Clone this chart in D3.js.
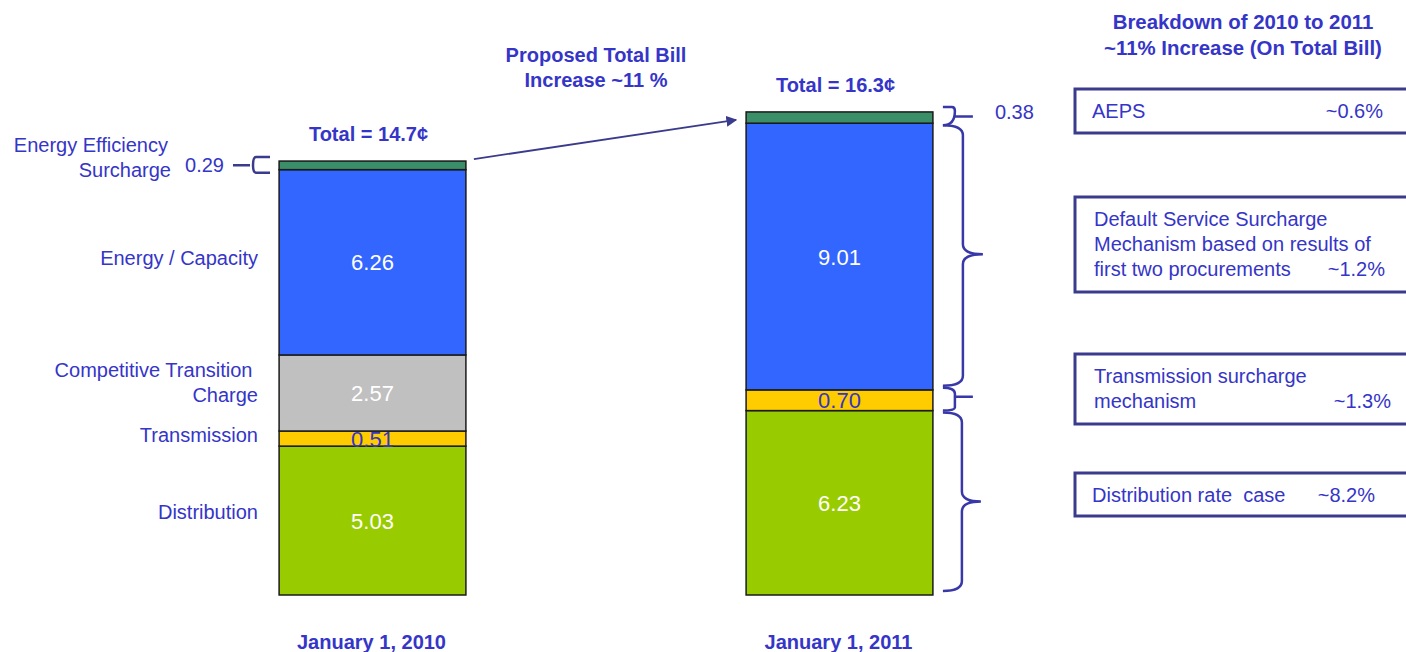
<!DOCTYPE html>
<html>
<head>
<meta charset="utf-8">
<script src="https://cdn.jsdelivr.net/npm/d3@7"></script>
<style>
  html, body { margin: 0; padding: 0; background: #ffffff; }
  svg { display: block; font-family: "Liberation Sans", Arial, sans-serif; }
</style>
</head>
<body>
<svg id="chart" width="1406" height="652"></svg>
<script>
// ---- data ----
const categories = ["January 1, 2010", "January 1, 2011"];
const components = ["Distribution", "Transmission", "Competitive Transition Charge", "Energy / Capacity", "Energy Efficiency Surcharge"];
const componentLabelLines = [["Distribution"], ["Transmission"], ["Competitive Transition ", "Charge"], ["Energy / Capacity"], ["Energy Efficiency", "Surcharge"]];
const values2010 = [5.03, 0.51, 2.57, 6.26, 0.29];
const values2011 = [6.23, 0.70, 0, 9.01, 0.38];
const totalLabels = ["Total = 14.7¢", "Total = 16.3¢"];
const colors = ["#99cc00", "#ffcc00", "#c0c0c0", "#3366ff", "#3a8f68"];
const breakdownTitle = ["Breakdown of 2010 to 2011", "~11% Increase (On Total Bill)"];
const breakdownText = [["AEPS"], ["Default Service Surcharge", "Mechanism based on results of", "first two procurements"], ["Transmission surcharge", "mechanism"], ["Distribution rate  case"]];
const breakdownPct = ["~0.6%", "~1.2%", "~1.3%", "~8.2%"];
const arrowTitle = ["Proposed Total Bill", "Increase ~11 %"];

const BLUE = "#3535c8";
const NAVY = "#3b3b8e";
const BRACE = "#3838a8";

const svg = d3.select("#chart");

const rows = categories.map((c, i) => {
  const vals = i === 0 ? values2010 : values2011;
  const r = { cat: c };
  components.forEach((k, j) => r[k] = vals[j]);
  return r;
});
const stacked = d3.stack().keys(components)(rows);

const x = d3.scaleBand().domain(categories).range([139, 1073]).paddingInner(0.6).paddingOuter(0.3);
const y = d3.scaleLinear().domain([0, 16]).range([595, 595 - 16 * 29.6]);

// bars
const g = svg.append("g");
stacked.forEach((layer, j) => {
  g.selectAll(null).data(layer.filter(d => d[1] - d[0] > 0)).enter().append("rect")
    .attr("x", d => x(d.data.cat))
    .attr("y", d => y(d[1]))
    .attr("width", x.bandwidth())
    .attr("height", d => y(d[0]) - y(d[1]))
    .attr("fill", colors[j])
    .attr("stroke", "#1a1a1a")
    .attr("stroke-width", 1.5);
});

// value labels inside bars
stacked.forEach((layer, j) => {
  layer.forEach((d, i) => {
    const v = d[1] - d[0];
    if (v <= 0 || j === 4) return;
    const cx = x(d.data.cat) + x.bandwidth() / 2;
    const cy = (y(d[0]) + y(d[1])) / 2;
    svg.append("text")
      .attr("x", cx).attr("y", cy + 8)
      .attr("text-anchor", "middle")
      .attr("font-size", 22)
      .attr("fill", j === 1 ? BLUE : "#ffffff")
      .text(v.toFixed(2));
  });
});

// component labels on the left of the first bar
const labelOffsets = [-9, -4, -10, -4, 0];
stacked.forEach((layer, j) => {
  const d = layer[0];
  const lines = componentLabelLines[j];
  if (j === 4) {
    const cy = y(d[1]) - 1;
    lines.forEach((t, k) => {
      svg.append("text").attr("x", [168, 171][k]).attr("y", cy - 8 + k * 25)
        .attr("text-anchor", "end").attr("font-size", 20).attr("fill", BLUE).text(t);
    });
    return;
  }
  const cy = (y(d[0]) + y(d[1])) / 2 + labelOffsets[j];
  const startY = cy - (lines.length - 1) * 12.5 + 7;
  lines.forEach((t, k) => {
    svg.append("text").attr("x", 258).attr("y", startY + k * 25)
      .attr("text-anchor", "end").attr("font-size", 20).attr("fill", BLUE)
      .style("white-space", "pre").text(t);
  });
});

// 0.29 label with small bracket
{
  const d = stacked[4][0];
  const top = y(d[1]), bot = y(d[0]);
  const ym = (top + bot) / 2;
  svg.append("text").attr("x", 224).attr("y", ym + 7).attr("text-anchor", "end")
    .attr("font-size", 20).attr("fill", BLUE).text(values2010[4].toFixed(2));
  svg.append("path")
    .attr("d", `M233,${ym} L250,${ym} M270,${top - 4} L256,${top - 4} Q253,${top - 4} 253,${ym} Q253,${bot + 3} 256,${bot + 3} L270,${bot + 3}`)
    .attr("fill", "none").attr("stroke", NAVY).attr("stroke-width", 2.5);
}

// totals and category labels
categories.forEach((c, i) => {
  const tot = d3.sum(i === 0 ? values2010 : values2011);
  svg.append("text").attr("x", x(c) + x.bandwidth() / 2 - 4).attr("y", y(tot) - 20)
    .attr("text-anchor", "middle").attr("font-size", 20).attr("font-weight", "bold")
    .attr("fill", BLUE).text(totalLabels[i]);
  svg.append("text").attr("x", x(c) + x.bandwidth() / 2 - 1).attr("y", 649)
    .attr("text-anchor", "middle").attr("font-size", 20).attr("font-weight", "bold")
    .attr("fill", BLUE).text(c);
});

// arrow
svg.append("defs").append("marker")
  .attr("id", "ah").attr("viewBox", "0 0 10 10").attr("refX", 9).attr("refY", 5)
  .attr("markerWidth", 6).attr("markerHeight", 6).attr("orient", "auto")
  .append("path").attr("d", "M0,0 L10,5 L0,10 z").attr("fill", NAVY);
{
  const t1 = d3.sum(values2010), t2 = d3.sum(values2011);
  svg.append("line")
    .attr("x1", x(categories[0]) + x.bandwidth() + 8).attr("y1", y(t1) - 2)
    .attr("x2", x(categories[1]) - 10).attr("y2", y(t2) + 8)
    .attr("stroke", NAVY).attr("stroke-width", 1.8).attr("marker-end", "url(#ah)");
}
arrowTitle.forEach((t, k) => {
  svg.append("text").attr("x", 596).attr("y", 62 + k * 25).attr("text-anchor", "middle")
    .attr("font-size", 20).attr("font-weight", "bold").attr("fill", BLUE).text(t);
});

// braces on bar 2
function brace(y0, y1, x0, w, ym) {
  const x1 = x0 + w / 2, x2 = x0 + w;
  if (ym === undefined) ym = (y0 + y1) / 2;
  const r = Math.min(10, (y1 - y0) / 4);
  return `M${x0},${y0} Q${x1},${y0} ${x1},${y0 + r} L${x1},${ym - r} Q${x1},${ym} ${x2},${ym} Q${x1},${ym} ${x1},${ym + r} L${x1},${y1 - r} Q${x1},${y1} ${x0},${y1}`;
}
{
  const c = categories[1];
  const bx = x(c) + x.bandwidth();
  const s = stacked;
  const gTop = y(s[4][1][1]), gBot = y(s[4][1][0]);
  const eTop = y(s[3][1][1]), eBot = y(s[3][1][0]);
  const tTop = y(s[1][1][1]), tBot = y(s[1][1][0]);
  const dTop = y(s[0][1][1]), dBot = y(s[0][1][0]);
  const addPath = p => svg.append("path").attr("d", p).attr("fill", "none").attr("stroke", BRACE).attr("stroke-width", 2.5);
  // small brace for top (0.38)
  addPath(`M${bx + 10},${gTop - 5} L${bx + 19},${gTop - 5} Q${bx + 22},${gTop - 5} ${bx + 22},${gTop - 1} Q${bx + 22},${gBot + 2} ${bx + 10},${gBot + 2} M${bx + 22},${(gTop + gBot) / 2 - 1} L${bx + 40},${(gTop + gBot) / 2 - 1}`);
  svg.append("text").attr("x", bx + 62).attr("y", gTop + 7).attr("font-size", 20).attr("fill", BLUE).text(values2011[4].toFixed(2));
  // big brace energy
  addPath(brace(eTop + 2, eBot - 4, bx + 10, 40, eTop + 131));
  // small brace transmission
  addPath(`M${bx + 10},${tTop - 2} Q${bx + 22},${tTop - 2} ${bx + 22},${tTop + 4} L${bx + 22},${tBot - 3} Q${bx + 22},${tBot} ${bx + 10},${tBot} M${bx + 22},${tTop + 7} L${bx + 40},${tTop + 7}`);
  // big brace distribution
  addPath(brace(dTop + 2, dBot - 4, bx + 10, 38, dTop + 91));
}

// right-side breakdown
breakdownTitle.forEach((t, k) => {
  svg.append("text").attr("x", 1243).attr("y", 29 + k * 26).attr("text-anchor", "middle")
    .attr("font-size", 20.4).attr("font-weight", "bold").attr("fill", BLUE).text(t);
});
const boxY = [89, 197, 354, 473];
const boxH = [44, 95, 70, 43];
const pctX = [1383, 1385, 1391, 1375];
breakdownText.forEach((lines, i) => {
  svg.append("rect").attr("x", 1075).attr("y", boxY[i]).attr("width", 360).attr("height", boxH[i])
    .attr("fill", "#ffffff").attr("stroke", NAVY).attr("stroke-width", 3);
  const tx = (i === 0 || i === 3) ? 1092 : 1094;
  lines.forEach((t, k) => {
    svg.append("text").attr("x", tx).attr("y", boxY[i] + 29 + k * 25)
      .attr("font-size", 20).attr("fill", BLUE).style("white-space", "pre").text(t);
  });
  svg.append("text").attr("x", pctX[i]).attr("y", boxY[i] + 29 + (lines.length - 1) * 25)
    .attr("text-anchor", "end").attr("font-size", 20).attr("fill", BLUE).text(breakdownPct[i]);
});
</script>
</body>
</html>
